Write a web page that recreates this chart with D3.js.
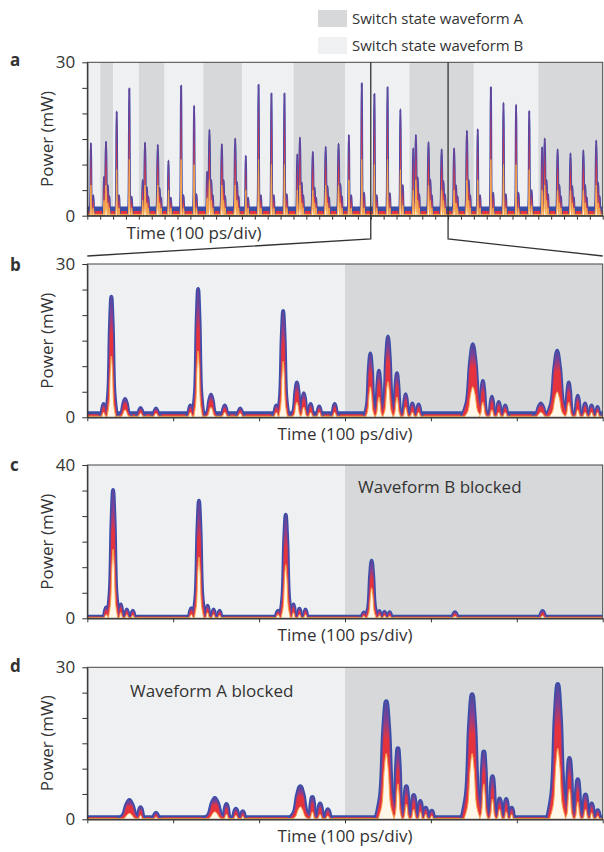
<!DOCTYPE html>
<html>
<head>
<meta charset="utf-8">
<script src="https://cdn.jsdelivr.net/npm/d3@7"></script>
<style>
  body { margin: 0; background: #fff; }
  text { font-family: "Open Sans", sans-serif; fill: #333; }
</style>
</head>
<body>
<svg id="chart" width="604" height="852"></svg>
<script>
/********************************************************
 ********************* Data *****************************
 ********************************************************/
// pulses are [time (div), max power, min power, half width (div)]

// panel a : 40 divisions overview
var aSwitchEdges = [0, 1, 2, 4, 6, 9, 12, 16, 20, 25, 30, 35, 40];
var aSwitchState = ["B", "A", "B", "A", "B", "A", "B", "A", "B", "A", "B", "A"];
var aPulsesB = [
  [0.28, 14.2, 6, 0.09], [2.28, 20.4, 9, 0.09], [3.26, 24.9, 11, 0.09], [6.3, 10.8, 5, 0.09],
  [7.28, 25.4, 11, 0.09], [8.29, 21.5, 10, 0.09], [12.3, 11.7, 5, 0.09], [13.29, 25.6, 11, 0.09],
  [14.29, 23.9, 10, 0.09], [15.3, 23.9, 10, 0.09], [20.3, 15.8, 7, 0.09], [21.3, 25.9, 11, 0.09],
  [22.28, 23.8, 10, 0.09], [23.3, 25.1, 11, 0.09], [24.3, 20.8, 9, 0.09], [30.3, 16.9, 7, 0.09],
  [31.32, 25.1, 11, 0.09], [32.3, 22.1, 10, 0.09], [33.28, 21.7, 10, 0.09], [34.3, 20.5, 9, 0.09]
];
var aBumpsB = [
  [0.46, 4, 1.5, 0.12], [2.46, 4, 1.5, 0.12], [3.44, 3.7, 1.5, 0.12], [6.48, 3.5, 1.5, 0.12],
  [7.46, 4, 1.5, 0.12], [8.47, 4.2, 1.5, 0.12], [12.48, 3.5, 1.5, 0.12], [13.47, 4, 1.5, 0.12],
  [14.47, 4, 1.5, 0.12], [15.48, 4.2, 1.5, 0.12], [20.48, 4, 1.5, 0.12], [21.48, 4.5, 1.5, 0.12],
  [22.46, 4, 1.5, 0.12], [23.48, 4.4, 1.5, 0.12], [24.48, 6, 2, 0.12], [30.48, 4, 1.5, 0.12],
  [31.5, 4.5, 1.5, 0.12], [32.48, 4.2, 1.5, 0.12], [33.46, 4.5, 1.5, 0.12], [34.48, 5, 2, 0.12]
];
var aPulsesA = [
  [1.45, 14.5, 6, 0.13], [4.48, 14.3, 6, 0.13], [5.47, 13.9, 6, 0.13], [9.48, 16.8, 7, 0.13],
  [10.44, 14.0, 6, 0.13], [11.48, 15.1, 6, 0.13], [16.5, 15.3, 6, 0.13], [17.5, 12.5, 5, 0.13],
  [18.5, 13.5, 6, 0.13], [19.5, 14.1, 6, 0.13], [25.5, 15.8, 7, 0.13], [26.48, 14.4, 6, 0.13],
  [27.5, 13.0, 5, 0.13], [28.47, 13.2, 5, 0.13], [29.46, 16.6, 7, 0.13], [35.5, 15.1, 6, 0.13],
  [36.5, 13.0, 5, 0.13], [37.5, 12.2, 5, 0.13], [38.5, 12.8, 5, 0.13], [39.5, 14.7, 6, 0.13]
];
var aLeadA = [
  [1.3, 7.6, 3, 0.1], [4.3, 7, 3, 0.1], [9.3, 8.6, 3.5, 0.1],
  [16.3, 12, 5, 0.1], [25.3, 13.2, 5, 0.1], [35.3, 13.4, 5, 0.1]
];
var aRingA = [
  [1.59, 6.0, 2.5, 0.12], [1.71, 3.8, 1.5, 0.1], [4.62, 5.6, 2.5, 0.12], [4.74, 3.7, 1.5, 0.1],
  [5.61, 5.4, 2.5, 0.12], [5.73, 3.5, 1.5, 0.1], [9.62, 7.0, 3, 0.12], [9.74, 4.0, 1.5, 0.1],
  [10.58, 7.0, 3, 0.12], [10.7, 3.8, 1.5, 0.1], [11.62, 6.6, 3, 0.12], [11.74, 3.8, 1.5, 0.1],
  [16.64, 6.5, 2.5, 0.12], [16.76, 4.0, 1.5, 0.1], [17.64, 5.5, 2.5, 0.12], [17.76, 3.5, 1.5, 0.1],
  [18.64, 5.8, 2.5, 0.12], [18.76, 3.6, 1.5, 0.1], [19.64, 6.2, 2.5, 0.12], [19.76, 3.8, 1.5, 0.1],
  [25.64, 7.5, 3, 0.12], [25.76, 4.2, 1.5, 0.1], [26.62, 7.1, 3, 0.12], [26.74, 4.0, 1.5, 0.1],
  [27.64, 6.8, 3, 0.12], [27.76, 4.2, 1.5, 0.1], [28.61, 6.0, 2.5, 0.12], [28.73, 3.8, 1.5, 0.1],
  [29.6, 7.0, 3, 0.12], [29.72, 4.0, 1.5, 0.1], [35.64, 7.0, 3, 0.12], [35.76, 4.2, 1.5, 0.1],
  [36.64, 6.0, 2.5, 0.12], [36.76, 3.8, 1.5, 0.1], [37.64, 5.8, 2.5, 0.12], [37.76, 3.6, 1.5, 0.1],
  [38.64, 6.0, 2.5, 0.12], [38.76, 3.6, 1.5, 0.1], [39.64, 6.5, 2.5, 0.12], [39.76, 3.8, 1.5, 0.1]
];

// zoom window (divisions 22 to 28) used by b, c, d
var zoomEdges = [22, 25, 28];
var zoomState = ["B", "A"];

// panel b : both waveforms
var bPulses = [
  [22.19, 2.6, 1, 0.05], [22.28, 23.6, 12, 0.065], [22.44, 3.6, 1.5, 0.08], [22.62, 1.8, 0.8, 0.06], [22.8, 1.7, 0.8, 0.06],
  [23.2, 2.3, 1, 0.05], [23.29, 25.1, 13, 0.065], [23.44, 4.4, 2, 0.08], [23.6, 2.3, 1, 0.06], [23.78, 1.7, 0.8, 0.06],
  [24.2, 2.3, 1, 0.05], [24.28, 20.8, 11, 0.065], [24.44, 6.8, 3, 0.07], [24.52, 4.7, 2, 0.06], [24.6, 2.6, 1, 0.05],
  [24.7, 2.1, 1, 0.05], [24.88, 2.6, 1, 0.05],
  [25.295, 12.5, 6, 0.07], [25.395, 9.1, 4, 0.06], [25.5, 15.8, 7, 0.08], [25.605, 8.6, 4, 0.06],
  [25.706, 4.5, 2, 0.05], [25.784, 2.7, 1, 0.05], [25.857, 2.5, 1, 0.05],
  [26.488, 14.3, 6, 0.13], [26.605, 7.1, 3, 0.06], [26.71, 4.0, 1.5, 0.05], [26.79, 3.0, 1, 0.05], [26.865, 2.3, 1, 0.05],
  [27.28, 2.7, 1, 0.1], [27.47, 13.0, 5, 0.13], [27.605, 6.8, 3, 0.06], [27.71, 4.2, 1.5, 0.05],
  [27.795, 2.7, 1, 0.05], [27.87, 2.3, 1, 0.05], [27.94, 2.0, 1, 0.04]
];

// panel c : waveform B blocked
var cPulses = [
  [22.22, 2.8, 1, 0.05], [22.30, 33.5, 18, 0.07], [22.39, 3.6, 1.5, 0.04], [22.46, 2.3, 1, 0.04], [22.53, 2.0, 0.8, 0.04],
  [23.21, 2.6, 1, 0.05], [23.30, 30.7, 16, 0.07], [23.4, 3.3, 1.5, 0.04], [23.47, 2.3, 1, 0.04], [23.54, 2.0, 0.8, 0.04],
  [24.22, 2.0, 1, 0.05], [24.31, 27.0, 14, 0.07], [24.4, 3.6, 1.5, 0.04], [24.47, 2.5, 1, 0.04], [24.54, 2.3, 1, 0.04],
  [25.22, 1.5, 0.6, 0.05], [25.31, 15.0, 8, 0.07], [25.4, 1.9, 0.8, 0.04], [25.46, 1.7, 0.7, 0.04], [25.52, 1.6, 0.6, 0.04],
  [26.28, 1.6, 0.6, 0.06], [27.3, 1.9, 0.7, 0.06]
];

// panel d : waveform A blocked
var dPulses = [
  [22.49, 3.7, 1.2, 0.13], [22.62, 2.3, 0.8, 0.05], [22.8, 1.2, 0.5, 0.05],
  [23.485, 4.1, 1.5, 0.13], [23.62, 2.9, 1, 0.05], [23.73, 2.0, 0.8, 0.05], [23.81, 1.5, 0.6, 0.04],
  [24.48, 6.4, 2.5, 0.13], [24.62, 4.3, 1.5, 0.05], [24.71, 3.0, 1, 0.05], [24.8, 1.9, 0.7, 0.05],
  [25.48, 23.2, 13, 0.12], [25.616, 13.9, 7, 0.06], [25.714, 6.4, 3, 0.05], [25.8, 4.7, 2, 0.05],
  [25.877, 3.5, 1.5, 0.04], [25.94, 2.2, 1, 0.04], [26.01, 1.6, 0.7, 0.04],
  [26.48, 24.6, 13, 0.12], [26.616, 13.3, 7, 0.06], [26.717, 8.4, 4, 0.05], [26.8, 4.0, 2, 0.05],
  [26.877, 3.9, 1.5, 0.04], [26.94, 2.2, 1, 0.04],
  [27.477, 26.6, 14, 0.12], [27.613, 12, 6, 0.06], [27.71, 7.8, 3.5, 0.05], [27.8, 4.8, 2, 0.05],
  [27.872, 3.0, 1.3, 0.04], [27.942, 1.7, 0.7, 0.04]
];

// noise floor levels [blue top, red top, inner] in mW
var aFloor = [1.8, 0.9, 0.25];
var bFloor = [1.2, 0.6, 0.2];
var cFloor = [0.9, 0.45, 0.15];
var dFloor = [0.8, 0.4, 0.15];

// axis ticks
var aXTicks = d3.range(0, 41);
var zoomXTicks = [22, 23, 24, 25, 26, 27, 28];
var yTicks30 = [0, 5, 10, 15, 20, 25, 30];
var yTicks40 = [0, 40 / 6, 80 / 6, 20, 160 / 6, 200 / 6, 40];

var legendLabels = ["Switch state waveform A", "Switch state waveform B"];

/********************************************************
 ********************* Drawing **************************
 ********************************************************/
var BLUE = "#3a4ea8", PURPLE = "#7d4196", RED = "#e5333e", ORANGE = "#f6a247", PALE = "#fff8ea";
var SHADE = { A: "#d7d8da", B: "#eff0f2" };

var svg = d3.select("#chart");
var defs = svg.append("defs");

// colour runs from the top of each pulse (blue) down to its foot
function addGradient(id, stops) {
  var gr = defs.append("linearGradient").attr("id", id)
    .attr("x1", 0).attr("y1", 0).attr("x2", 0).attr("y2", 1);
  gr.selectAll("stop").data(stops).enter().append("stop")
    .attr("offset", function(d) { return d[0]; })
    .attr("stop-color", function(d) { return d[1]; });
}
addGradient("gradSpike", [[0, BLUE], [0.18, PURPLE], [0.4, RED], [0.75, "#f07a3c"], [1, ORANGE]]);
addGradient("gradPulse", [[0, BLUE], [0.14, PURPLE], [0.32, RED], [1, RED]]);

var panels = [
  { letter: "a", top: 62.3, bottom: 215.7, xDom: [0, 40], yDom: [0, 30], xTicks: aXTicks, yTicks: yTicks30,
    edges: aSwitchEdges, states: aSwitchState, floor: aFloor, sw: 2, grad: "gradSpike",
    pulses: [].concat(aBumpsB, aRingA, aLeadA, aPulsesA, aPulsesB), labelX: 194, letterY: 66 },
  { letter: "b", top: 264, bottom: 417.3, xDom: [22, 28], yDom: [0, 30], xTicks: zoomXTicks, yTicks: yTicks30,
    edges: zoomEdges, states: zoomState, floor: bFloor, sw: 4, grad: "gradPulse",
    pulses: bPulses, labelX: 345, letterY: 271 },
  { letter: "c", top: 465, bottom: 618.3, xDom: [22, 28], yDom: [0, 40], xTicks: zoomXTicks, yTicks: yTicks40,
    edges: zoomEdges, states: zoomState, floor: cFloor, sw: 4, grad: "gradPulse",
    pulses: cPulses, labelX: 345, letterY: 471,
    note: "Waveform B blocked", noteX: 358, noteY: 493 },
  { letter: "d", top: 667.3, bottom: 819.3, xDom: [22, 28], yDom: [0, 30], xTicks: zoomXTicks, yTicks: yTicks30,
    edges: zoomEdges, states: zoomState, floor: dFloor, sw: 5, grad: "gradPulse",
    pulses: dPulses, labelX: 345, letterY: 672,
    note: "Waveform A blocked", noteX: 130, noteY: 697 }
];

var LEFT = 87.3, RIGHT = 602.7;

// shape of one pulse, through the pulse's own points
function pulsePoints(t, h, w) {
  return [[t - w, 0], [t - 0.55 * w, 0.2 * h], [t - 0.25 * w, 0.75 * h], [t, h],
          [t + 0.25 * w, 0.75 * h], [t + 0.55 * w, 0.2 * h], [t + w, 0]];
}

var scales = {};

panels.forEach(function(p, i) {
  var x = d3.scaleLinear().domain(p.xDom).range([LEFT, RIGHT]);
  var y = d3.scaleLinear().domain(p.yDom).range([p.bottom, p.top]);
  scales[p.letter] = x;

  svg.append("clipPath").attr("id", "clip" + i)
    .append("rect").attr("x", LEFT).attr("y", p.top)
    .attr("width", RIGHT - LEFT).attr("height", p.bottom - p.top);

  var g = svg.append("g").attr("clip-path", "url(#clip" + i + ")");

  // switch state background
  g.selectAll(".state").data(p.states).enter().append("rect")
    .attr("x", function(d, k) { return x(p.edges[k]); })
    .attr("width", function(d, k) { return x(p.edges[k + 1]) - x(p.edges[k]); })
    .attr("y", p.top).attr("height", p.bottom - p.top)
    .attr("fill", function(d) { return SHADE[d]; });

  var line = d3.line()
    .x(function(d) { return x(d[0]); })
    .y(function(d) { return y(d[1]); })
    .curve(d3.curveCatmullRom);

  function floorPath(v) {
    return "M" + LEFT + "," + y(0) + "V" + y(v) + "H" + RIGHT + "V" + y(0) + "Z";
  }
  function hiPath(d) { return line(pulsePoints(d[0], d[1], d[3])); }
  function loPath(d) { return line(pulsePoints(d[0], d[2], d[3] * 0.8)); }

  // noise floor bands
  g.append("path").attr("d", floorPath(p.floor[0])).attr("fill", BLUE);
  g.append("path").attr("d", floorPath(p.floor[1])).attr("fill", RED);

  // outer envelope in blue, body coloured from tip to foot
  g.selectAll(null).data(p.pulses).enter().append("path")
    .attr("d", hiPath).attr("fill", BLUE).attr("stroke", BLUE)
    .attr("stroke-width", p.sw).attr("stroke-linejoin", "round");
  g.selectAll(null).data(p.pulses).enter().append("path")
    .attr("d", hiPath).attr("fill", PURPLE).attr("stroke", PURPLE)
    .attr("stroke-width", p.sw * 0.35).attr("stroke-linejoin", "round");
  g.selectAll(null).data(p.pulses).enter().append("path")
    .attr("d", hiPath).attr("fill", "url(#" + p.grad + ")");

  // inner envelope: orange trace over a pale interior
  g.append("path").attr("d", floorPath(p.floor[2])).attr("fill", PALE).attr("stroke", ORANGE).attr("stroke-width", 1);
  g.selectAll(null).data(p.pulses).enter().append("path")
    .attr("d", loPath).attr("fill", PALE).attr("stroke", ORANGE).attr("stroke-width", 1);

  // frame
  svg.append("rect").attr("x", LEFT).attr("y", p.top)
    .attr("width", RIGHT - LEFT).attr("height", p.bottom - p.top)
    .attr("fill", "none").attr("stroke", "#444").attr("stroke-width", 1);

  // axes
  var xAxis = svg.append("g").attr("transform", "translate(0," + p.bottom + ")")
    .call(d3.axisBottom(x).tickValues(p.xTicks).tickSize(4).tickSizeOuter(0).tickFormat(""));
  var yAxis = svg.append("g").attr("transform", "translate(" + LEFT + ",0)")
    .call(d3.axisLeft(y).tickValues(p.yTicks).tickSize(5).tickSizeOuter(0).tickPadding(7)
      .tickFormat(function(d) { return (d == p.yDom[0] || d == p.yDom[1]) ? d : ""; }));
  [xAxis, yAxis].forEach(function(ax) {
    ax.select(".domain").attr("stroke", "#333").attr("stroke-width", 1.2);
    ax.selectAll(".tick line").attr("stroke", "#333").attr("stroke-width", 1);
    ax.selectAll(".tick text").style("font-family", "Open Sans").style("font-size", "17px").attr("fill", "#333");
  });

  // labels
  svg.append("text").attr("x", p.labelX).attr("y", p.bottom + 23)
    .attr("text-anchor", "middle").style("font-size", "17px").text("Time (100 ps/div)");
  svg.append("text")
    .attr("transform", "translate(53," + (p.top + p.bottom) / 2 + ") rotate(-90)")
    .attr("text-anchor", "middle").style("font-size", "17px").text("Power (mW)");
  svg.append("text").attr("x", 10).attr("y", p.letterY)
    .style("font-size", "17px").style("font-weight", "bold").attr("fill", "#111").text(p.letter);

  if (p.note) {
    svg.append("text").attr("x", p.noteX).attr("y", p.noteY)
      .style("font-size", "17px").text(p.note);
  }
});

// zoom window connectors from a to b
var xa = scales.a;
var zx0 = xa(zoomEdges[0]), zx1 = xa(zoomEdges[zoomEdges.length - 1]);
svg.append("path")
  .attr("d", "M" + zx0 + ",62.3V239L" + LEFT + ",256")
  .attr("fill", "none").attr("stroke", "#333").attr("stroke-width", 1.3);
svg.append("path")
  .attr("d", "M" + zx1 + ",62.3V239L" + RIGHT + ",256")
  .attr("fill", "none").attr("stroke", "#333").attr("stroke-width", 1.3);

// legend
var legend = svg.append("g");
legend.selectAll("rect").data(["A", "B"]).enter().append("rect")
  .attr("x", 318).attr("y", function(d, k) { return 10 + k * 27; })
  .attr("width", 29).attr("height", 17)
  .attr("fill", function(d) { return SHADE[d]; });
legend.selectAll("text").data(legendLabels).enter().append("text")
  .attr("x", 352).attr("y", function(d, k) { return 24 + k * 27; })
  .style("font-size", "15px").text(function(d) { return d; });
</script>
</body>
</html>
